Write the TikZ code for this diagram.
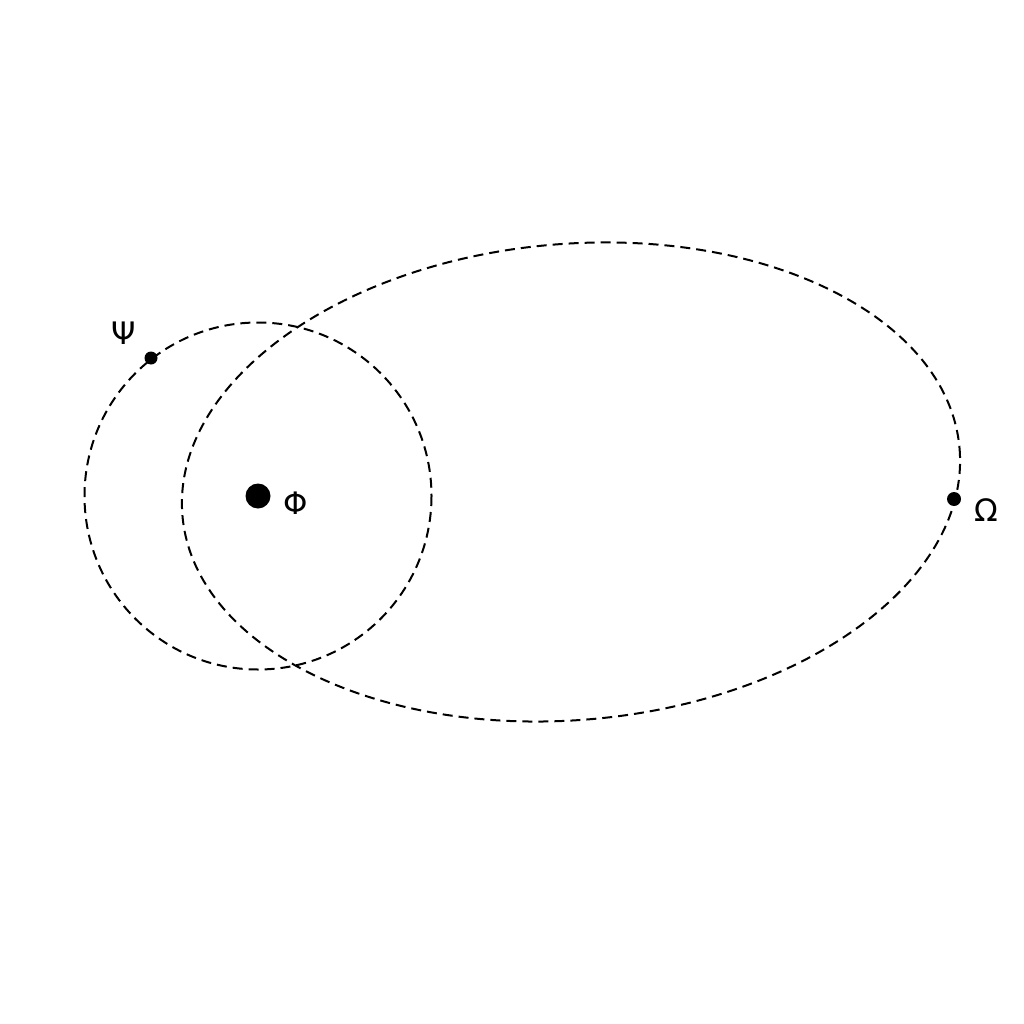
\documentclass[tikz,border=0pt]{standalone}
\usepackage{fontspec}
\setmainfont{DejaVu Sans}
\begin{document}
\begin{tikzpicture}[x=1pt,y=-1pt,
  orbit/.style={draw, line width=2pt, dash pattern=on 10pt off 6pt},
  dot/.style={circle, fill=black, draw=none, inner sep=0pt},
  lbl/.style={font=\fontsize{31}{31}\selectfont, inner sep=0pt}]
\useasboundingbox (0,0) rectangle (1024,1024);
\coordinate (ec) at (571,482);
\coordinate (cc) at (258,496);
\draw[orbit, rotate around={5:(ec)}] (ec) ellipse [x radius=390, y radius=238];
\draw[orbit] (cc) circle [radius=173.5];
\node[dot, minimum size=13pt] (psi) at (151,358) {};
\node[dot, minimum size=25pt] (phi) at (cc) {};
\node[dot, minimum size=14pt] (omega) at (954,499) {};
\node[lbl] (psil) at (124,333) {Ψ};
\node[lbl] (phil) at (296,503) {Φ};
\node[lbl] (omegal) at (986,510) {Ω};
\end{tikzpicture}
\end{document}
